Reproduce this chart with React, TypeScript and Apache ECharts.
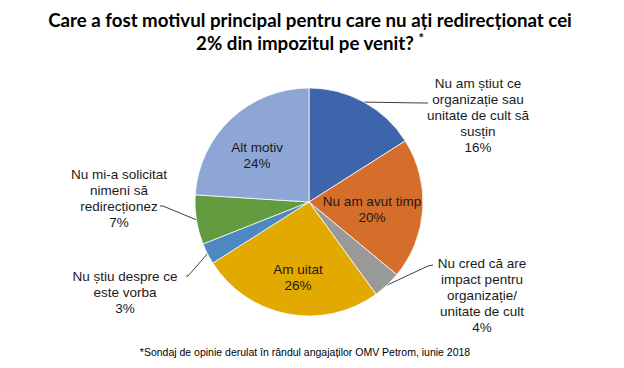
import React, { useEffect, useRef } from "react";
import * as echarts from "echarts";

const titleLine1 = "Care a fost motivul principal pentru care nu ați redirecționat cei";
const titleLine2 = "2% din impozitul pe venit?";
const footnote = "*Sondaj de opinie derulat în rândul angajaților OMV Petrom, iunie 2018";

const categories = [
  "Nu am știut ce\norganizație sau\nunitate de cult să\nsusțin",
  "Nu am avut timp",
  "Nu cred că are\nimpact pentru\norganizație/\nunitate de cult",
  "Am uitat",
  "Nu știu despre ce\neste vorba",
  "Nu mi-a solicitat\nnimeni să\nredirecționez",
  "Alt motiv",
];
const values = [16, 20, 4, 26, 3, 7, 24];
const colors = ["#3E64AB", "#D56E2A", "#999999", "#E2AA00", "#4E88C0", "#629A3E", "#8EA6D5"];
const insideLabel = [false, true, false, true, false, false, true];

// label placement (layout only)
const LABEL_LAYOUT: any[] = [
  { x: 478, y: 115, elbow: [423, 103], end: [428, 103] },
  { x: 372, y: 209 },
  { x: 482, y: 295, elbow: [428, 266], end: [433, 265] },
  { x: 298, y: 277 },
  { x: 125, y: 292, elbow: [188, 276], end: [186, 276] },
  { x: 119, y: 198, elbow: [163, 206], end: [160, 206] },
  { x: 257, y: 155 },
];

const LABEL_FONT = "'Liberation Sans', Arial, sans-serif";
const TITLE_FONT = "Lato, 'Noto Sans', sans-serif";

export default function App() {
  const ref = useRef<HTMLDivElement>(null);
  useEffect(() => {
    if (!ref.current) return;
    const chart = echarts.init(ref.current, null, { renderer: "svg" });
    chart.setOption({
      animation: false,
      backgroundColor: "#ffffff",
      graphic: [
        {
          type: "text",
          x: 310,
          y: 20,
          style: {
            text: titleLine1,
            align: "center",
            verticalAlign: "middle",
            fontFamily: TITLE_FONT,
            fontWeight: "bold",
            fontSize: 18.7,
            fill: "#000000",
          },
        },
        {
          type: "text",
          x: 310,
          y: 43,
          style: {
            text: titleLine2 + " {s|*}",
            align: "center",
            verticalAlign: "middle",
            fontFamily: TITLE_FONT,
            fontWeight: "bold",
            fontSize: 18.7,
            fill: "#000000",
            rich: {
              s: {
                fontFamily: TITLE_FONT,
                fontWeight: "bold",
                fontSize: 13,
                padding: [0, 0, 10, 0],
                fill: "#000000",
              },
            },
          },
        },
        {
          type: "text",
          x: 305,
          y: 352,
          style: {
            text: footnote,
            align: "center",
            verticalAlign: "middle",
            fontFamily: LABEL_FONT,
            fontSize: 10.5,
            fill: "#000000",
          },
        },
      ],
      series: [
        {
          type: "pie",
          center: [309, 202],
          radius: 114,
          startAngle: 90,
          clockwise: true,
          avoidLabelOverlap: false,
          itemStyle: { borderColor: "#ffffff", borderWidth: 0.75 },
          label: {
            formatter: "{b}\n{c}%",
            fontFamily: LABEL_FONT,
            fontSize: 13.5,
            lineHeight: 16,
            color: "#1a1a1a",
            align: "center",
          },
          labelLine: {
            show: true,
            lineStyle: { color: "#404040", width: 1 },
          },
          labelLayout: (p: any) => {
            const L = LABEL_LAYOUT[p.dataIndex];
            const res: any = { x: L.x, y: L.y, align: "center", verticalAlign: "middle" };
            if (L.end && p.labelLinePoints) {
              res.labelLinePoints = [p.labelLinePoints[0], L.elbow, L.end];
            }
            return res;
          },
          data: categories.map((name, i) => ({
            name,
            value: values[i],
            itemStyle: { color: colors[i] },
            label: { position: insideLabel[i] ? "inside" : "outside" },
            labelLine: { show: !insideLabel[i] },
          })),
        },
      ],
    });
    return () => chart.dispose();
  }, []);
  return (
    <div
      ref={ref}
      style={{ position: "fixed", left: 0, top: 0, width: 624, height: 368 }}
    />
  );
}
